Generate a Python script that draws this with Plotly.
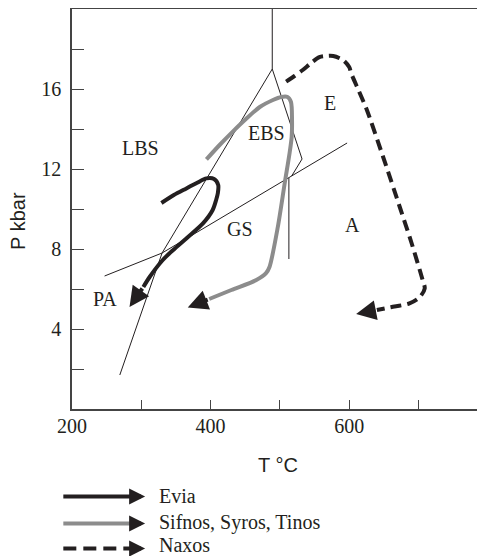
import plotly.graph_objects as go

# ---- data (T in °C, P in kbar) ----
evia_T = [329, 347, 365, 380, 394, 405, 411, 410.5, 408, 403, 389, 365, 346, 331, 312, 303, 283]
evia_P = [10.3, 10.7, 11.03, 11.3, 11.53, 11.5, 11.2, 10.8, 10.45, 9.95, 9.28, 8.53, 7.95, 7.45, 6.6, 6.1, 5.1]

sifnos_T = [394, 413, 432, 451, 471, 490, 502, 511, 516, 517.5, 517, 514, 507, 497, 485, 480, 466, 430, 398, 367]
sifnos_P = [12.48, 13.2, 13.87, 14.5, 15.1, 15.45, 15.6, 15.6, 15.35, 14.45, 13.6, 12.8, 11.3, 9.1, 7.1, 6.79, 6.45, 5.95, 5.5, 5.08]

naxos_T = [509, 521, 533, 545, 557, 567, 577, 591, 600, 603, 614, 625, 649, 673, 690, 706, 709, 702, 687, 660, 640, 610]
naxos_P = [16.37, 16.65, 16.95, 17.3, 17.59, 17.65, 17.65, 17.45, 17.1, 16.78, 15.9, 15.0, 12.6, 10.1, 8.3, 6.45, 6.03, 5.6, 5.28, 5.09, 4.95, 4.75]

# facies boundaries
bnd_A_T, bnd_A_P = [489, 489], [20, 17]
bnd_B_T, bnd_B_P = [489, 330, 269], [17, 7.8, 1.7]
bnd_C_T, bnd_C_P = [247, 330, 597], [6.65, 7.8, 13.3]
bnd_D_T, bnd_D_P = [489, 532, 517], [17, 12.5, 11.65]
bnd_E_T, bnd_E_P = [513, 513], [11.55, 7.5]

facies_names = ["LBS", "EBS", "E", "GS", "A", "PA"]
facies_T = [299, 480, 572, 442, 605, 248]
facies_P = [13.07, 13.78, 15.3, 9.0, 9.2, 5.5]

legend_names = ["Evia", "Sifnos, Syros, Tinos", "Naxos"]

x_tickvals = [200, 300, 400, 500, 600, 700]
x_ticktext = ["200", "", "400", "", "600", ""]
y_tickvals = [2, 4, 6, 8, 10, 12, 14, 16, 18]
y_ticktext = ["", "4", "", "8", "", "12", "", "16", ""]

BLACK = "#231f20"
GRAY = "#8c8c8c"
SERIF = "Liberation Serif, Times New Roman, serif"
SANS = "Liberation Sans, Arial, sans-serif"

fig = go.Figure()

for bt, bp in [(bnd_A_T, bnd_A_P), (bnd_B_T, bnd_B_P), (bnd_C_T, bnd_C_P),
               (bnd_D_T, bnd_D_P), (bnd_E_T, bnd_E_P)]:
    fig.add_trace(go.Scatter(x=bt, y=bp, mode="lines",
                             line=dict(color=BLACK, width=1),
                             hoverinfo="skip", showlegend=False))

paths = [
    (evia_T, evia_P, BLACK, "solid"),
    (sifnos_T, sifnos_P, GRAY, "solid"),
    (naxos_T, naxos_P, BLACK, "11px,6px"),
]
for pt, pp, col, dash in paths:
    fig.add_trace(go.Scatter(x=pt[:-1], y=pp[:-1], mode="lines",
                             line=dict(color=col, width=4, dash=dash, shape="spline", smoothing=0.8),
                             hoverinfo="skip", showlegend=False))
    # arrowheads are black for every path
    fig.add_annotation(x=pt[-1], y=pp[-1], ax=pt[-2], ay=pp[-2],
                       xref="x", yref="y", axref="x", ayref="y",
                       text="", showarrow=True, arrowhead=2, arrowsize=1.0,
                       arrowwidth=4, arrowcolor=BLACK, standoff=0)

for name, t, p in zip(facies_names, facies_T, facies_P):
    fig.add_annotation(x=t, y=p, xref="x", yref="y", text=name, showarrow=False,
                       xanchor="center", yanchor="middle",
                       font=dict(family=SERIF, size=20, color=BLACK))

# axis titles
fig.add_annotation(x=0.498, y=-0.14, xref="paper", yref="paper", text="T °C",
                   xanchor="center", yanchor="middle",
                   showarrow=False, font=dict(family=SANS, size=20, color=BLACK))
fig.add_annotation(x=-0.131, y=0.47, xref="paper", yref="paper", text="P kbar",
                   xanchor="center", yanchor="middle",
                   textangle=-90, showarrow=False, font=dict(family=SANS, size=20, color=BLACK))

# custom legend
leg_line_y = [-0.219, -0.286, -0.349]
leg_text_y = [-0.218, -0.283, -0.341]
leg_col = [BLACK, GRAY, BLACK]
leg_dash = ["solid", "solid", "13px,7px"]
x_start, x_tip = -0.021, 0.177
head_px = 15
for name, ly, ty, col, dsh in zip(legend_names, leg_line_y, leg_text_y, leg_col, leg_dash):
    fig.add_shape(type="line", xref="paper", yref="paper", x0=x_start, x1=x_tip - head_px / 413,
                  y0=ly, y1=ly, line=dict(color=col, width=4, dash=dsh))
    fig.add_annotation(x=x_tip, y=ly, xref="paper", yref="paper", ax=-head_px, ay=0,
                       text="", showarrow=True, arrowhead=2, arrowsize=0.8,
                       arrowwidth=4, arrowcolor=BLACK, standoff=0)
    fig.add_annotation(x=0.207, y=ty, xref="paper", yref="paper", text=name,
                       xanchor="left", yanchor="middle", showarrow=False,
                       font=dict(family=SERIF, size=20, color=BLACK))

fig.update_xaxes(range=[200, 796], tickvals=x_tickvals, ticktext=x_ticktext,
                 ticks="inside", ticklen=9, tickwidth=1.3, tickcolor="#444",
                 showline=True, linecolor="#444", linewidth=1.5, mirror=True,
                 showgrid=False, zeroline=False, ticklabelstandoff=-2,
                 tickfont=dict(family=SERIF, size=20, color=BLACK))
fig.update_yaxes(range=[0, 20], tickvals=y_tickvals, ticktext=y_ticktext,
                 ticks="inside", ticklen=12, tickwidth=1.3, tickcolor="#444",
                 showline=True, linecolor="#444", linewidth=1.5, mirror=False,
                 showgrid=False, zeroline=False, ticklabelstandoff=5,
                 tickfont=dict(family=SERIF, size=20, color=BLACK))

# page body has an 8px margin: offset the figure so the plot area lands where the reference has it
fig.update_layout(width=477, height=548, margin=dict(l=64, r=0, t=1, b=147),
                  paper_bgcolor="white", plot_bgcolor="white", showlegend=False)

fig.write_html("out.html")
